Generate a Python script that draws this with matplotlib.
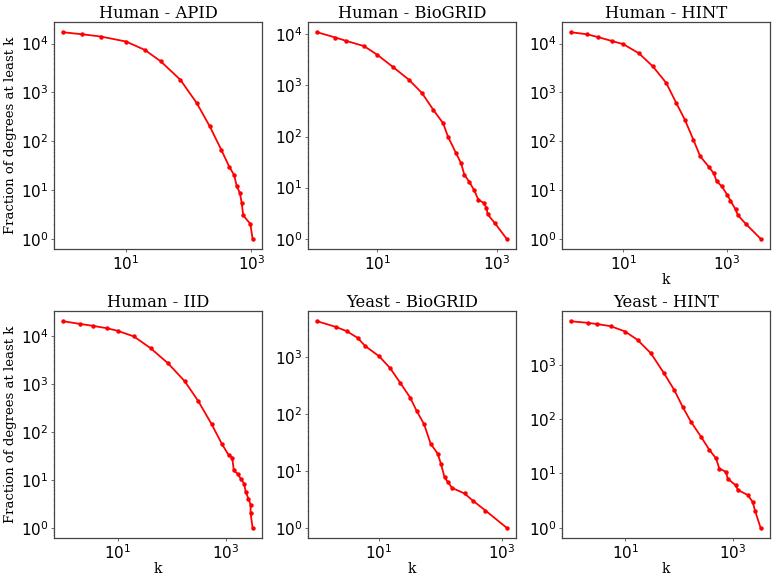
import matplotlib
matplotlib.use("Agg")
import matplotlib.pyplot as plt
from matplotlib.ticker import FixedLocator, NullLocator

titles = ["Human - APID", "Human - BioGRID", "Human - HINT",
          "Human - IID", "Yeast - BioGRID", "Yeast - HINT"]
x_ticks = [10, 1000]

apid_k = [1, 2, 4, 10, 20, 36, 74, 135, 218, 333, 445, 535, 585, 660, 705, 745, 970, 1050]
apid_n = [17000, 15500, 13900, 11000, 7400, 4300, 1800, 600, 200, 66, 30, 20, 12, 8.6, 5.4, 3, 2, 1]

hbio_k = [1, 2, 3, 6, 10, 18, 34, 56, 87, 126, 152, 208, 252, 285, 345, 415, 490, 605, 670, 700, 930, 1450]
hbio_n = [11000, 8700, 7500, 5900, 4000, 2340, 1290, 710, 330, 183, 100, 47, 30, 18, 13, 9, 5.8, 5, 4, 3, 2, 1]

hhint_k = [1, 2, 3.3, 6, 10, 20, 37, 67, 105, 153, 224, 302, 440, 550, 630, 790, 1000, 1160, 1450, 1620, 2300, 4400]
hhint_n = [17000, 15500, 13500, 11300, 9700, 6300, 3400, 1560, 600, 275, 106, 49, 30, 22, 15, 11.8, 8, 6, 4, 3, 2, 1]

iid_k = [1, 2, 3.5, 6.3, 10, 20, 41, 85, 174, 310, 550, 850, 1150, 1320, 1420, 1700, 1900, 2200, 2350, 2650, 2900, 2900, 3150]
iid_n = [20000, 17700, 16100, 14400, 12700, 9700, 5500, 2700, 1140, 440, 144, 56, 32, 29, 15.6, 13, 10.5, 8.3, 5.6, 4, 3, 2, 1]

ybio_k = [1, 2, 3, 4.5, 6, 10, 15, 22, 32, 41, 54, 69, 90, 102, 116, 132, 154, 245, 333, 537, 1180]
ybio_n = [4270, 3400, 2860, 2180, 1560, 1040, 650, 357, 195, 113, 66, 30, 20, 13, 7.7, 6.3, 5, 4, 3, 2, 1]

yhint_k = [1, 2, 3, 5.4, 10, 17, 30, 53, 82, 117, 167, 256, 370, 490, 565, 750, 810, 1150, 1240, 1900, 2350, 2630, 3300]
yhint_n = [6400, 6000, 5700, 5200, 4150, 2900, 1650, 700, 345, 170, 90, 48, 27, 19, 12.3, 10.7, 8, 6, 5, 4, 3, 2, 1]

series = [(apid_k, apid_n), (hbio_k, hbio_n), (hhint_k, hhint_n),
          (iid_k, iid_n), (ybio_k, ybio_n), (yhint_k, yhint_n)]

show_xlabel = [False, False, True, True, True, True]
show_ylabel = [True, False, False, True, False, False]

fig = plt.figure(figsize=(7.77, 5.77), dpi=100)
lefts = [54, 308, 562]
tops = [22, 311]
w, h = 208, 227
W, H = 777, 577

for i, (ks, ns) in enumerate(series):
    r, c = divmod(i, 3)
    ax = fig.add_axes([lefts[c] / W, 1 - (tops[r] + h) / H, w / W, h / H])
    ax.loglog(ks, ns, color="red", marker="o", markersize=2.2, linewidth=1.3)
    ax.set_title(titles[i], family="DejaVu Serif", fontsize=11.8, pad=3)
    if show_xlabel[i]:
        ax.set_xlabel("k", family="DejaVu Serif", fontsize=10, labelpad=0)
    if show_ylabel[i]:
        ax.set_ylabel("Fraction of degrees at least k", family="DejaVu Serif", fontsize=9.5, labelpad=3)
    ax.xaxis.set_major_locator(FixedLocator(x_ticks))
    ax.xaxis.set_minor_locator(NullLocator())
    ax.tick_params(which="major", length=2, width=0.6, color="#555555", labelsize=11, pad=2)
    ax.tick_params(which="minor", length=1, width=0.4, color="#888888")
    for s in ax.spines.values():
        s.set_color("#444444")
        s.set_linewidth(0.9)

fig.savefig("out.png", dpi=100)
